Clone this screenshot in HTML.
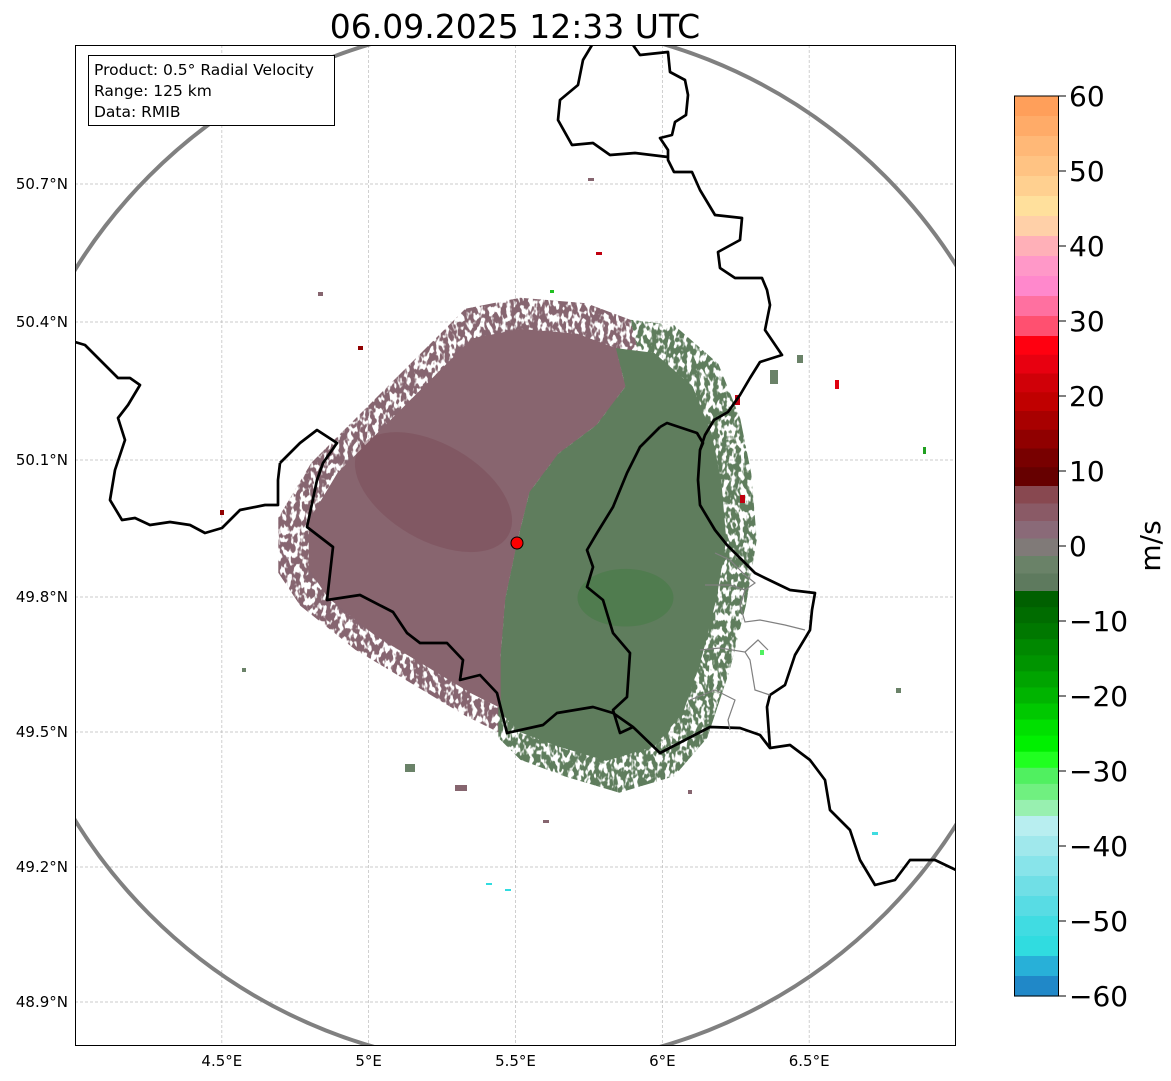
<!DOCTYPE html>
<html><head><meta charset="utf-8"><style>
html,body{margin:0;padding:0;background:#fff;}
svg{display:block;font-family:"DejaVu Sans","Liberation Sans",sans-serif;}
</style></head><body>
<svg id="chart" width="1171" height="1081" viewBox="0 0 1171 1081" xmlns="http://www.w3.org/2000/svg">
<defs>
<clipPath id="ax"><rect x="75" y="45" width="881" height="1001"/></clipPath>
<filter id="spk" filterUnits="userSpaceOnUse" x="75" y="45" width="881" height="1001">
<feTurbulence type="fractalNoise" baseFrequency="0.25 0.14" numOctaves="2" seed="5"/>
<feColorMatrix type="matrix" values="0 0 0 0 0  0 0 0 0 0  0 0 0 0 0  9 0 0 0 -3.7" result="m"/>
<feComposite in="SourceGraphic" in2="m" operator="in"/>
</filter>
</defs>
<text x="515" y="38" font-size="33" text-anchor="middle">06.09.2025 12:33 UTC</text>
<g id="grid" stroke="#bbb" stroke-width="0.7" stroke-dasharray="3,2"></g>
<g clip-path="url(#ax)">
 <g>
  <g filter="url(#spk)" transform="translate(517 543) scale(1.1) translate(-517 -543)">
   <polygon fill="#86656f" points="300,520 330,470 370,430 420,380 470,330 520,320 580,325 620,340 630,380 600,420 560,450 530,490 517,543 505,600 500,660 510,720 470,700 420,670 370,640 320,600 300,570"/>
   <polygon fill="#5f7d5d" points="517,543 530,490 560,450 600,420 630,380 620,340 660,345 700,380 720,430 730,480 735,540 725,600 710,660 690,720 660,755 610,770 560,755 520,740 500,720 500,660 505,600"/>
  </g>
  <g transform="translate(517 543) scale(0.96) translate(-517 -543)">
   <polygon fill="#88656f" points="300,520 330,470 370,430 420,380 470,330 520,320 580,325 620,340 630,380 600,420 560,450 530,490 517,543 505,600 500,660 510,720 470,700 420,670 370,640 320,600 300,570"/>
   <polygon fill="#5f7d5d" points="517,543 530,490 560,450 600,420 630,380 620,340 660,345 700,380 720,430 730,480 735,540 725,600 710,660 690,720 660,755 610,770 560,755 520,740 500,720 500,660 505,600"/>
   <ellipse cx="430" cy="490" rx="90" ry="50" transform="rotate(30 430 490)" fill="#7a4a55" opacity="0.45"/>
   <ellipse cx="630" cy="600" rx="50" ry="30" fill="#2f7a2f" opacity="0.3"/>
  </g>
  <g>
   <rect x="596" y="252" width="6" height="3" fill="#c00010"/>
   <rect x="318" y="292" width="5" height="4" fill="#86656f"/>
   <rect x="358" y="346" width="5" height="4" fill="#900000"/>
   <rect x="835" y="380" width="4" height="9" fill="#e00010"/>
   <rect x="923" y="447" width="3" height="7" fill="#20a020"/>
   <rect x="896" y="688" width="5" height="5" fill="#6a8268"/>
   <rect x="872" y="832" width="6" height="3" fill="#40dce0"/>
   <rect x="486" y="883" width="6" height="2" fill="#30dce0"/>
   <rect x="505" y="889" width="6" height="2" fill="#30dce0"/>
   <rect x="242" y="668" width="4" height="4" fill="#6a8268"/>
   <rect x="220" y="510" width="4" height="5" fill="#900000"/>
   <rect x="588" y="178" width="6" height="3" fill="#86656f"/>
   <rect x="550" y="290" width="4" height="3" fill="#20c020"/>
   <rect x="797" y="355" width="6" height="8" fill="#6a8268"/>
   <rect x="770" y="370" width="8" height="14" fill="#6a8268"/>
   <rect x="405" y="764" width="10" height="8" fill="#6a8268"/>
   <rect x="455" y="785" width="12" height="6" fill="#86656f"/>
   <rect x="543" y="820" width="6" height="3" fill="#86656f"/>
   <rect x="688" y="790" width="4" height="4" fill="#86656f"/>
   <rect x="735" y="395" width="5" height="10" fill="#c00010"/>
   <rect x="740" y="495" width="5" height="8" fill="#c00010"/>
   <rect x="760" y="650" width="4" height="5" fill="#50f060"/>
  </g>
 </g>
 <ellipse cx="517" cy="545" rx="520" ry="522" fill="none" stroke="#808080" stroke-width="4"/>
 <g fill="none" stroke="#000" stroke-width="2.7" stroke-linejoin="round">
  <polyline points="75,342 85,345 100,360 118,378 130,378 140,385 128,405 118,418 125,440 115,470 110,500 122,520 135,518 150,525 170,522 190,525 205,533 222,528 240,510 265,505 278,505 278,480 280,463"/>
  <polyline points="280,463 300,443 317,430 337,443 323,463 317,480 307,527 333,547 327,600 360,595 393,612 407,633 420,643 447,643 463,660 460,680 480,675 497,693 507,733 543,725 557,713 593,707 613,713 633,727 660,753 710,727 740,728 760,735 770,748 790,745 810,760 825,780 830,810 850,830 860,860 875,885 895,880 910,860 935,860 956,870"/>
  <polyline points="660,427 640,447 627,473 613,507 597,533 587,550 593,567 587,587 603,600 613,633 630,653 627,697 613,710 620,733 633,727"/>
  <polyline points="660,427 667,423 697,433 703,443 700,450"/>
  <polyline points="592,45 583,60 578,85 560,100 558,120 572,145 593,143 610,155 635,153 668,157"/>
  <polyline points="633,45 640,55 668,52 670,72 685,80 688,95 686,115 675,122 672,135 660,138 668,150 668,160 674,172 692,172 700,190 715,215 742,218 740,240 718,252 720,268 735,278 762,278 767,290 770,305 765,330 782,355 760,362 750,378 740,395 728,412 714,420 705,435 700,450 698,480 700,505 715,530 727,545 735,553 755,573 765,578 790,590 815,593 812,610 810,630 795,655 785,685 770,695 767,707 770,748"/>
 </g>
 <g fill="none" stroke="#808080" stroke-width="1.2">
  <polyline points="715,553 730,560 745,575 755,583 745,590 740,605 745,622 760,620 785,625 805,630"/>
  <polyline points="705,585 730,585 745,590"/>
  <polyline points="700,650 720,648 745,652 750,660 755,690 770,695"/>
  <polyline points="745,652 758,640 768,650"/>
  <polyline points="690,700 715,690 735,700 728,720 730,730"/>
 </g>
 <circle cx="517" cy="543" r="6" fill="#f00" stroke="#000" stroke-width="1"/>
</g>
<rect x="75.5" y="45.5" width="880" height="1000" fill="none" stroke="#000" stroke-width="1"/>
<g>
 <rect x="88.5" y="55.5" width="246" height="70" fill="#fff" stroke="#000" stroke-width="1"/>
 <text x="94" y="75" font-size="15.5">Product: 0.5° Radial Velocity</text>
 <text x="94" y="96" font-size="15.5">Range: 125 km</text>
 <text x="94" y="117" font-size="15.5">Data: RMIB</text>
</g>
<g id="xt"></g>
<g id="yt"></g>
<g id="cb"></g>
<text x="0" y="0" font-size="28" text-anchor="middle" transform="translate(1160 546) rotate(-90)">m/s</text>
<script>
var xLabels=["4.5°E","5°E","5.5°E","6°E","6.5°E"];
var xLons=[4.5,5,5.5,6,6.5];
var yLabels=["50.7°N","50.4°N","50.1°N","49.8°N","49.5°N","49.2°N","48.9°N"];
var yPix=[184,322,460,597,732,867,1002];
var cbTicks=[60,50,40,30,20,10,0,-10,-20,-30,-40,-50,-60];
var cbWarm=["#ff9f5a","#ffab68","#ffb877","#ffc383","#ffd090","#ffe09c","#ffd0a8","#ffb0b8","#ff98c8","#ff88cc","#ff70a0","#ff5070"];
var cbRed=["#ff0010","#e80010","#d00008","#c00000","#a80000","#900000","#780000","#660000"];
var cbMuted=["#884850","#8a5a66","#8a6a78","#807a78","#6a8268","#5e7a5e"];
var cbGreen=["#006000","#006c00","#007800","#008800","#009400","#00a400","#00b400","#00c800","#00e000","#00f000","#20ff20","#50f060","#70f080","#98f0b0"];
var cbCyan=["#b8eef0","#a0e8ec","#88e4ea","#70dfe6","#58dce4","#40dce2","#30dce0","#28b0d8","#2088c8"];
var cbGroupBounds=[60,28,8,-6,-36,-60];
var NS="http://www.w3.org/2000/svg";
function lonX(l){return 75+(l-4)*293.67;}
function vY(v){return 96+(60-v)*7.5;}
function mk(t,a,p){var e=document.createElementNS(NS,t);for(var k in a)e.setAttribute(k,a[k]);p.appendChild(e);return e;}
var grid=document.getElementById('grid'),xt=document.getElementById('xt'),yt=document.getElementById('yt'),cb=document.getElementById('cb');
xLons.forEach(function(l,i){var x=lonX(l);
 var g=mk('line',{x1:x,x2:x,y1:45,y2:1046},grid);
 
 
 var t=mk('text',{x:x,y:1066,'font-size':15,'text-anchor':'middle'},xt);t.textContent=xLabels[i];
 
 
});
yPix.forEach(function(y,i){
 var g=mk('line',{x1:75,x2:956,y1:y,y2:y},grid);
 
 
 var t=mk('text',{x:68,y:y+5,'font-size':15,'text-anchor':'end'},yt);t.textContent=yLabels[i];
 
 
});
[cbWarm,cbRed,cbMuted,cbGreen,cbCyan].forEach(function(grp,gi){
 var top=cbGroupBounds[gi],bot=cbGroupBounds[gi+1],step=(top-bot)/grp.length;
 grp.forEach(function(c,i){
  var y0=vY(top-i*step),y1=vY(top-(i+1)*step);
  var r=mk('rect',{x:1014,y:y0,width:45,height:(y1-y0)+0.6,fill:c},cb);
  
  
 });
});
var fr=mk('rect',{x:1014.5,y:96,width:44,height:900,fill:'none',stroke:'#000','stroke-width':1},cb);


cbTicks.forEach(function(v){var y=vY(v);
 mk('line',{x1:1059,x2:1066,y1:y,y2:y,stroke:'#000','stroke-width':1},cb);
 var t=mk('text',{x:1069,y:y+10,'font-size':28},cb);t.textContent=(v<0?'\u2212'+(-v):''+v);
 
 
});
</script>
</svg>
</body></html>
